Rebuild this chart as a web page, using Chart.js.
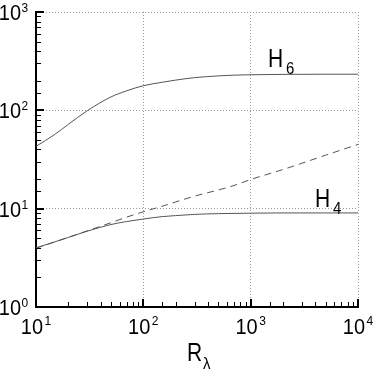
<!DOCTYPE html>
<html>
<head>
<meta charset="utf-8">
<script src="https://cdn.jsdelivr.net/npm/chart.js@4.4.0/dist/chart.umd.min.js"></script>
<style>
  html, body { margin: 0; padding: 0; background: #fff; }
  #wrap { width: 374px; height: 370px; }
</style>
</head>
<body>
<div id="wrap"><canvas id="myChart" width="374" height="370"></canvas></div>
<script>
// values
let rLambda = [10, 15, 20, 30, 50, 70, 100, 150, 200, 300, 500, 700, 1000, 2000, 5000, 10000];
let h6Values = [43, 57, 72, 99, 137, 158, 178, 193, 203, 215, 224, 228, 230, 232, 233, 233];
let h4Values = [4.0, 4.6, 5.1, 5.9, 6.9, 7.4, 7.85, 8.3, 8.5, 8.75, 8.9, 8.95, 9.0, 9.05, 9.05, 9.05];
let dashedValues = [3.95, 4.6, 5.1, 5.95, 7.2, 8.2, 9.3, 10.6, 11.7, 13.4, 15.5, 17.2, 19.8, 25, 35, 45];

let xTickExps = [1, 2, 3, 4];
let yTickExps = [0, 1, 2, 3];

let curveLabels = [
    { text: 'H', sub: '6', x: 1450, y: 279 },
    { text: 'H', sub: '4', x: 3980, y: 10.5 }
];

let FONT = '"Liberation Sans", Arial, Helvetica, sans-serif';

function toPoints(xs, ys) {
    return xs.map((x, i) => ({ x: x, y: ys[i] }));
}

// draws text stretched vertically a bit, like the reference font
function drawText(ctx, text, x, baseline, size, sy, align) {
    ctx.save();
    ctx.translate(x, baseline);
    ctx.scale(1, sy);
    ctx.font = size + 'px ' + FONT;
    ctx.textAlign = align;
    ctx.textBaseline = 'alphabetic';
    ctx.fillStyle = '#000';
    ctx.fillText(text, 0, 0);
    ctx.restore();
}

function isDecade(v) {
    let l = Math.log10(v);
    return Math.abs(l - Math.round(l)) < 1e-9;
}

let decorations = {
    id: 'decorations',
    afterDraw(chart) {
        let ctx = chart.ctx;
        let xs = chart.scales.x;
        let ys = chart.scales.y;
        let area = chart.chartArea;

        // inward tick marks
        ctx.save();
        ctx.strokeStyle = '#000';
        ys.ticks.forEach(t => {
            let py = Math.round(ys.getPixelForValue(t.value));
            let major = isDecade(t.value);
            ctx.lineWidth = major ? 2 : 1;
            ctx.beginPath();
            ctx.moveTo(area.left, py + (major ? 0 : 0.5));
            ctx.lineTo(area.left + (major ? 8 : 5), py + (major ? 0 : 0.5));
            ctx.stroke();
        });
        xs.ticks.forEach(t => {
            let px = Math.round(xs.getPixelForValue(t.value));
            let major = isDecade(t.value);
            ctx.lineWidth = major ? 2 : 1;
            ctx.beginPath();
            ctx.moveTo(px + (major ? 0 : 0.5), area.bottom);
            ctx.lineTo(px + (major ? 0 : 0.5), area.bottom - (major ? 8 : 5));
            ctx.stroke();
        });
        ctx.restore();

        // tick labels 10^n
        yTickExps.forEach(e => {
            let py = ys.getPixelForValue(Math.pow(10, e));
            drawText(ctx, '10', 21, py + 8, 20, 1.1, 'right');
            drawText(ctx, String(e), 21.5, py, 12, 1.1, 'left');
        });
        xTickExps.forEach(e => {
            let px = xs.getPixelForValue(Math.pow(10, e));
            drawText(ctx, '10', px + 7, 334, 20, 1.1, 'right');
            drawText(ctx, String(e), px + 8.5, 325, 12, 1.1, 'left');
        });

        // axis title R_lambda
        drawText(ctx, 'R', 187, 361, 21, 1.27, 'left');
        drawText(ctx, 'λ', 203, 369, 15, 1.1, 'left');

        // curve labels
        curveLabels.forEach(l => {
            let px = xs.getPixelForValue(l.x);
            let py = ys.getPixelForValue(l.y);
            drawText(ctx, l.text, px, py, 21, 1.27, 'left');
            drawText(ctx, l.sub, px + 18, py + 7, 15, 1.05, 'left');
        });
    }
};

let ctx = document.getElementById('myChart').getContext('2d');

let lineStyle = {
    borderColor: '#555',
    borderWidth: 1,
    pointRadius: 0,
    fill: false,
    cubicInterpolationMode: 'monotone'
};

let myChart = new Chart(ctx, {
    type: 'line',
    data: {
        datasets: [
            Object.assign({ label: 'H6', data: toPoints(rLambda, h6Values) }, lineStyle),
            Object.assign({ label: 'H4', data: toPoints(rLambda, h4Values) }, lineStyle),
            Object.assign({ label: 'dashed', data: toPoints(rLambda, dashedValues), borderDash: [7, 5] }, lineStyle)
        ]
    },
    options: {
        responsive: false,
        animation: false,
        layout: { padding: { top: 12, right: 16, left: 0, bottom: 0 } },
        plugins: { legend: { display: false }, tooltip: { enabled: false } },
        scales: {
            x: {
                type: 'logarithmic',
                min: 10,
                max: 10000,
                ticks: { display: false },
                grid: {
                    drawTicks: false,
                    color: c => (c.tick && isDecade(c.tick.value)) ? '#999' : 'transparent',
                    lineWidth: 1
                },
                border: { display: true, color: '#000', width: 2, dash: [1, 2] },
                afterFit: s => { s.height = 63; }
            },
            y: {
                type: 'logarithmic',
                min: 1,
                max: 1000,
                ticks: { display: false },
                grid: {
                    drawTicks: false,
                    color: c => (c.tick && isDecade(c.tick.value)) ? '#999' : 'transparent',
                    lineWidth: 1
                },
                border: { display: true, color: '#000', width: 2, dash: [1, 2] },
                afterFit: s => { s.width = 36; }
            }
        }
    },
    plugins: [decorations]
});
</script>
</body>
</html>
